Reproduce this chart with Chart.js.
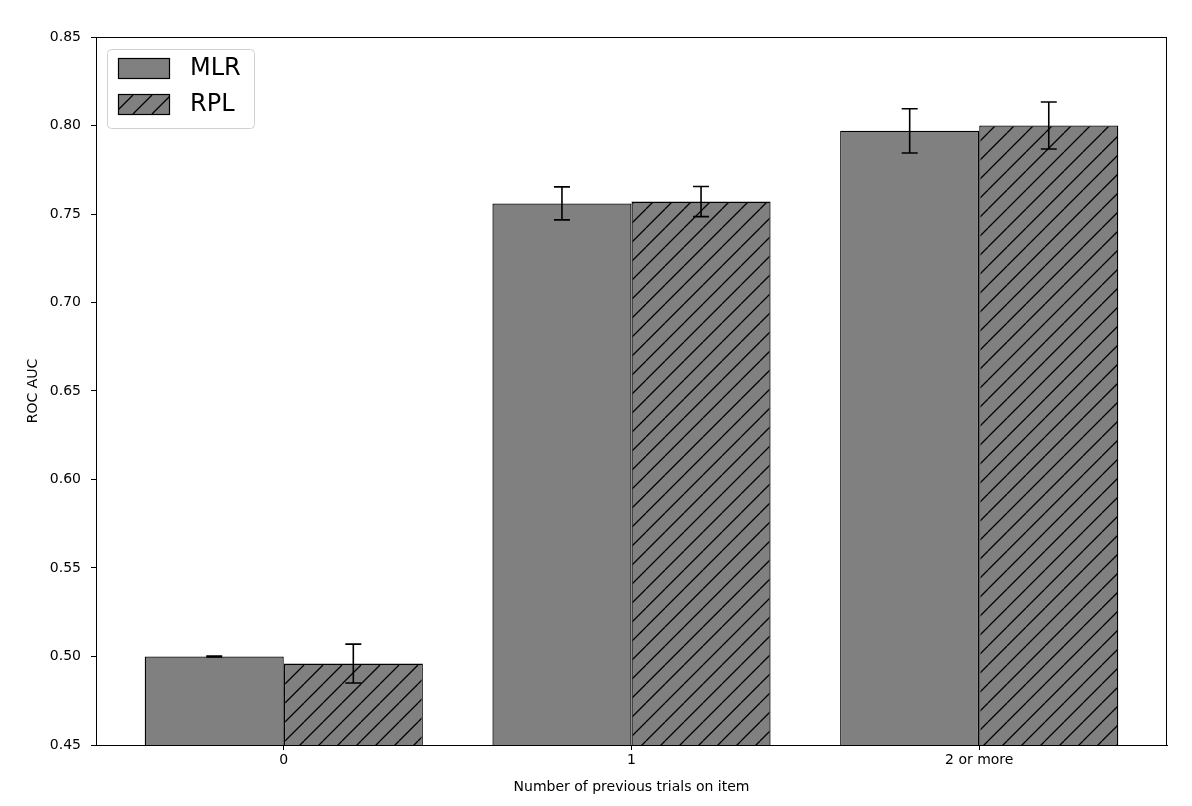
<!DOCTYPE html>
<html>
<head>
<meta charset="utf-8">
<script src="https://cdn.jsdelivr.net/npm/chart.js@4.4.1/dist/chart.umd.min.js"></script>
<style>
  body { margin: 0; background: #fff; }
  #wrap { width: 1192px; height: 806px; }
</style>
</head>
<body>
<div id="wrap"><canvas id="graficaAuc" width="1192" height="806"></canvas></div>
<script>
// datos
const categorias = ["0", "1", "2 or more"];
const posiciones = [0, 1, 2];
const valoresMLR = [0.500, 0.756, 0.797];
const erroresMLR = [0.0003, 0.0093, 0.0125];
const valoresRPL = [0.496, 0.757, 0.800];
const erroresRPL = [0.011, 0.0085, 0.0133];
const ticksY = [0.45, 0.50, 0.55, 0.60, 0.65, 0.70, 0.75, 0.80, 0.85];

Chart.defaults.font.family = "'DejaVu Sans', sans-serif";
Chart.defaults.font.size = 14;
Chart.defaults.color = "#000";

function crearRayado() {
    const c = document.createElement("canvas");
    c.width = 19;
    c.height = 19;
    const g = c.getContext("2d");
    g.fillStyle = "#808080";
    g.fillRect(0, 0, 19, 19);
    g.strokeStyle = "#000";
    g.lineWidth = 1.3;
    g.beginPath();
    for (const k of [-19, 0, 19]) {
        g.moveTo(k, 19);
        g.lineTo(k + 19, 0);
    }
    g.stroke();
    return g.createPattern(c, "repeat");
}

const ctx = document.getElementById("graficaAuc").getContext("2d");
const rayado = crearRayado();

const errores = [erroresMLR, erroresRPL];

// barras de error + marco + leyenda
const extras = {
    id: "extras",
    afterDatasetsDraw(chart) {
        const c = chart.ctx;
        const y = chart.scales.y;
        c.save();
        c.strokeStyle = "#000";
        c.lineWidth = 1.6;
        chart.data.datasets.forEach((ds, i) => {
            const meta = chart.getDatasetMeta(i);
            meta.data.forEach((bar, j) => {
                const v = ds.data[j].y;
                const e = errores[i][j];
                const yt = y.getPixelForValue(v + e);
                const yb = y.getPixelForValue(v - e);
                c.beginPath();
                c.moveTo(bar.x, yt); c.lineTo(bar.x, yb);
                c.moveTo(bar.x - 8, yt); c.lineTo(bar.x + 8, yt);
                c.moveTo(bar.x - 8, yb); c.lineTo(bar.x + 8, yb);
                c.stroke();
            });
        });
        c.restore();
    },
    afterDraw(chart) {
        const c = chart.ctx;
        const a = chart.chartArea;
        c.save();
        c.strokeStyle = "#000";
        c.lineWidth = 1;
        c.strokeRect(a.left + 0.5, a.top + 0.5, a.right - a.left - 1, a.bottom - a.top);

        // leyenda
        const lx = a.left + 11, ly = a.top + 12;
        c.beginPath();
        c.roundRect(lx + 0.5, ly + 0.5, 147, 79, 4);
        c.fillStyle = "rgba(255,255,255,0.8)";
        c.fill();
        c.strokeStyle = "#d0d0d0";
        c.stroke();
        c.font = "24px 'DejaVu Sans'";
        c.textBaseline = "middle";
        chart.data.datasets.forEach((ds, i) => {
            const py = ly + 9 + i * 36;
            c.fillStyle = ds.backgroundColor;
            c.fillRect(lx + 11, py, 51, 20);
            c.strokeStyle = "#000";
            c.lineWidth = 1.2;
            c.strokeRect(lx + 11.5, py + 0.5, 51, 20);
            c.fillStyle = "#000";
            c.fillText(ds.label, lx + 83, py + 11);
        });
        c.restore();
    }
};

new Chart(ctx, {
    type: "bar",
    data: {
        datasets: [
            {
                label: "MLR",
                data: posiciones.map((p, i) => ({ x: p, y: valoresMLR[i] })),
                backgroundColor: "#808080",
                borderColor: "#000",
                borderWidth: 1.3
            },
            {
                label: "RPL",
                data: posiciones.map((p, i) => ({ x: p, y: valoresRPL[i] })),
                backgroundColor: rayado,
                borderColor: "#000",
                borderWidth: 1.3
            }
        ]
    },
    options: {
        responsive: false,
        animation: false,
        categoryPercentage: 0.8,
        barPercentage: 1.0,
        layout: { padding: { left: 0, top: 37, right: 25, bottom: 0 } },
        plugins: {
            legend: { display: false },
            tooltip: { enabled: false }
        },
        scales: {
            x: {
                type: "linear",
                min: -0.54,
                max: 2.54,
                offset: false,
                afterBuildTicks: s => { s.ticks = posiciones.map(v => ({ value: v })); },
                afterFit: s => { s.height = 61; },
                ticks: {
                    callback: v => categorias[v],
                    padding: 2,
                    maxRotation: 0,
                    autoSkip: false
                },
                grid: { drawOnChartArea: false, offset: false, tickLength: 5, color: "#000" },
                border: { color: "#000" },
                title: {
                    display: true,
                    text: "Number of previous trials on item",
                    padding: { top: 0, bottom: 10 }
                }
            },
            y: {
                min: 0.45,
                max: 0.85,
                afterBuildTicks: s => { s.ticks = ticksY.map(v => ({ value: v })); },
                afterFit: s => { s.width = 96; },
                ticks: {
                    callback: v => v.toFixed(2),
                    padding: 10
                },
                grid: { drawOnChartArea: false, tickLength: 5, color: "#000" },
                border: { color: "#000" },
                title: {
                    display: true,
                    text: "ROC AUC",
                    padding: { top: 25, bottom: 0 }
                }
            }
        }
    },
    plugins: [extras]
});
</script>
</body>
</html>
